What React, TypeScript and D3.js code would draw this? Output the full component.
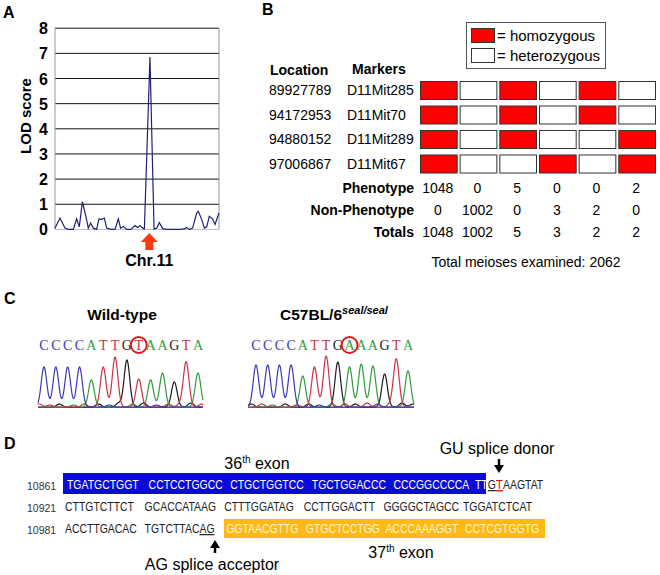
import React from 'react';
import * as d3 from 'd3';

const FONT = "'Liberation Sans', Arial, Helvetica, sans-serif";
const SERIF = "'Liberation Serif', 'Times New Roman', serif";

// ---------- Panel A data ----------
const lodTicks = [0, 1, 2, 3, 4, 5, 6, 7, 8];
const lodPos = [0, 3, 6.1, 8.1, 11.2, 13.2, 14.8, 16.7, 18.9, 20.3, 21.7, 23.4, 25.4, 26.8, 28.5, 30.1, 31.5, 34.1, 36.6, 38.6, 40, 41.7, 43.7, 46.3, 48.8, 50.4, 51.8, 53.5, 54.5, 57.9, 60.4, 62, 63.6, 65.7, 68.1, 72.2, 76.2, 78.9, 80.3, 81.9, 83.9, 86.4, 87.4, 89.4, 91.1, 92.5, 94.1, 96, 97.6, 100];
const lodVal = [0.05, 0.45, 0.05, 0, 0, 0.42, 0.1, 1.1, 0.5, 0.05, 0.25, 0.05, 0, 0.42, 0.4, 0.45, 0.05, 0, 0, 0.42, 0.05, 0.12, 0, 0, 0.15, 0.08, 0.15, 0.05, 0.02, 6.85, 0.02, 0.05, 0.27, 0.03, 0, 0, 0, 0.02, 0.08, 0, 0.05, 0.65, 0.72, 0.4, 0.05, 0.1, 0.52, 0.42, 0.2, 0.65];
const chrLabel = 'Chr.11';

// ---------- Panel B data ----------
const locations = ['89927789', '94172953', '94880152', '97006867'];
const markers = ['D11Mit285', 'D11Mit70', 'D11Mit289', 'D11Mit67'];
const genotypes = [
  [1, 0, 1, 0, 1, 0],
  [1, 0, 1, 0, 1, 0],
  [1, 0, 1, 0, 0, 1],
  [1, 0, 0, 1, 0, 1],
];
const phenotype = [1048, 0, 5, 0, 0, 2];
const nonPhenotype = [0, 1002, 0, 3, 2, 0];
const totals = [1048, 1002, 5, 3, 2, 2];
const tableLabels = ['Phenotype', 'Non-Phenotype', 'Totals'];

// ---------- Panel C data ----------
const wtBases = ['C', 'C', 'C', 'C', 'A', 'T', 'T', 'G', 'T', 'A', 'A', 'G', 'T', 'A'];
const wtHeights = [40, 40, 40, 40, 27, 40, 50, 47, 28, 27, 34, 25, 45, 34];
const mutBases = ['C', 'C', 'C', 'C', 'A', 'T', 'T', 'G', 'A', 'A', 'A', 'G', 'T', 'A'];
const mutHeights = [42, 42, 42, 42, 31, 40, 51, 45, 40, 43, 41, 33, 48, 36];
const wtNoise: [number, string, number][] = [
  [-0.4, 'T', 3], [0.5, 'T', 2], [1.3, 'G', 3], [2.5, 'A', 2], [3.4, 'T', 3], [4.6, 'G', 3],
  [5.5, 'C', 2], [6.3, 'G', 4], [7.5, 'A', 3], [8.4, 'G', 4], [9.5, 'C', 2], [10.5, 'T', 3],
  [11.5, 'T', 3], [12.4, 'G', 4], [13.3, 'T', 3],
];
const mutNoise: [number, string, number][] = [
  [-0.4, 'G', 3], [0.5, 'T', 3], [1.4, 'A', 2], [2.5, 'G', 3], [3.5, 'T', 2], [4.5, 'G', 3],
  [5.4, 'C', 2], [6.5, 'A', 3], [7.6, 'T', 3], [8.5, 'G', 3], [9.5, 'T', 4], [10.4, 'C', 3],
  [11.5, 'T', 3], [12.5, 'G', 4], [13.4, 'G', 3],
];
const baseColors: Record<string, string> = { C: '#3a3ab8', A: '#2f9c3c', T: '#cc3344', G: '#1c1c1c' };

// ---------- Panel D data ----------
const seqNumbers = ['10861', '10921', '10981'];
const seqRow1 = ['TGATGCTGGT', 'CCTCCTGGCC', 'CTGCTGGTCC', 'TGCTGGACCC', 'CCCGGCCCCA', 'TTGTAAGTAT'];
const seqRow2 = ['CTTGTCTTCT', 'GCACCATAAG', 'CTTTGGATAG', 'CCTTGGACTT', 'GGGGCTAGCC', 'TGGATCTCAT'];
const seqRow3 = ['ACCTTGACAC', 'TGTCTTACAG', 'GGTAACGTTG', 'GTGCTCCTGG', 'ACCCAAAGGT', 'CCTCGTGGTG'];

function Chromatogram(props: {
  bases: string[]; heights: number[]; noise: [number, string, number][];
  x0: number; x1: number; lx0: number; lx1: number; baseY: number; letterY: number; circleIdx: number;
}) {
  const { bases, heights, noise, x0, x1, lx0, lx1, baseY, letterY, circleIdx } = props;
  const xs = d3.scaleLinear([0, bases.length - 1], [lx0, lx1]);
  const sigma = 2.8;
  const samples = d3.range(x0, x1 + 0.01, 0.5);
  const line = d3.line<[number, number]>().x(d => d[0]).y(d => d[1]);
  const channels = ['G', 'A', 'T', 'C'];
  return (
    <g>
      <line x1={x0} x2={x1} y1={baseY + 0.5} y2={baseY + 0.5} stroke="#5a5ac8" strokeWidth={1} />
      {channels.map(ch => {
        const peaks: [number, number][] = [];
        bases.forEach((b, i) => { if (b === ch) peaks.push([xs(i), heights[i]]); });
        noise.forEach(n => { if (n[1] === ch) peaks.push([xs(n[0]), n[2]]); });
        const pts = samples.map(x => [x, baseY - d3.sum(peaks, p => p[1] * Math.exp(-((x - p[0]) ** 2) / (2 * sigma * sigma)))] as [number, number]);
        return <path key={ch} d={line(pts) || ''} fill="none" stroke={baseColors[ch]} strokeWidth={1.2} />;
      })}
      {bases.map((b, i) => (
        <text key={i} x={xs(i)} y={letterY} textAnchor="middle" fontFamily={SERIF} fontSize={14} fill={baseColors[b]}>{b}</text>
      ))}
      <circle cx={xs(circleIdx)} cy={letterY - 5} r={8} fill="none" stroke="#e01818" strokeWidth={2} />
    </g>
  );
}

export default function App() {
  // Panel A scales
  const ax = d3.scaleLinear([0, 100], [55, 219]);
  const ay = d3.scaleLinear([0, 8], [229.4, 28.2]);
  const lodLine = d3.line<number>().x((_, i) => ax(lodPos[i])).y(d => ay(d));
  const arrowX = ax(57.5);

  // Panel B scales
  const bx = d3.scaleBand<number>().domain(d3.range(6)).range([420, 656]).paddingInner(0.05);
  const by = d3.scaleLinear([0, 3], [90, 163.5]);
  const ty = d3.scaleLinear([0, 2], [193, 237]);

  // Panel D scales
  const r1 = d3.scaleLinear([0, 5], [67, 475]);
  const r23 = d3.scaleLinear([0, 5], [65, 463]);
  const rowY = [489, 511, 533];
  const seqFont = 12;
  const sx = 0.87;
  const seqText = (key: string | number, x: number, y: number, fill: string, children: React.ReactNode) => (
    <text key={key} transform={`translate(${x},${y}) scale(${sx},1)`} fontFamily={FONT} fontSize={seqFont} fill={fill}>{children}</text>
  );

  return (
    <svg width={660} height={575} style={{ position: 'absolute', left: 0, top: 0, background: '#fff' }} fontFamily={FONT}>
      {/* ---------------- Panel A ---------------- */}
      <text x={3} y={18} fontSize={16} fontWeight="bold">A</text>
      {lodTicks.map(t => (
        <g key={t}>
          {t > 0 && <line x1={55} x2={219} y1={ay(t)} y2={ay(t)} stroke="#111" strokeWidth={1} />}
          <text x={48} y={ay(t) + 6} textAnchor="end" fontSize={16} fontWeight="bold">{t}</text>
        </g>
      ))}
      <line x1={55} x2={55} y1={ay(8)} y2={ay(0)} stroke="#999" strokeWidth={1} />
      <line x1={219} x2={219} y1={ay(8)} y2={ay(0)} stroke="#999" strokeWidth={1} />
      <line x1={55} x2={219} y1={ay(0)} y2={ay(0)} stroke="#bbb" strokeWidth={1} />
      <path d={lodLine(lodVal) || ''} fill="none" stroke="#20207a" strokeWidth={1.2} />
      <text transform={`translate(31,116) rotate(-90)`} textAnchor="middle" fontSize={15} fontWeight="bold">LOD score</text>
      <path d={`M${arrowX},233 L${arrowX + 8.5},242 L${arrowX + 4},242 L${arrowX + 4},250 L${arrowX - 4},250 L${arrowX - 4},242 L${arrowX - 8.5},242 Z`} fill="#ff3a10" />
      <text x={arrowX} y={266} textAnchor="middle" fontSize={16} fontWeight="bold">{chrLabel}</text>

      {/* ---------------- Panel B ---------------- */}
      <text x={262} y={15} fontSize={16} fontWeight="bold">B</text>
      <rect x={466.5} y={22.5} width={139} height={46} fill="#fff" stroke="#555" strokeWidth={1} />
      <rect x={471.5} y={28.5} width={23} height={14} fill="#ff0000" stroke="#333" strokeWidth={1} />
      <rect x={471.5} y={48.5} width={23} height={14} fill="#fff" stroke="#333" strokeWidth={1} />
      <text x={497} y={40.5} fontSize={15}>= homozygous</text>
      <text x={497} y={60.5} fontSize={15}>= heterozygous</text>
      <text x={270} y={75} fontSize={14} fontWeight="bold">Location</text>
      <text x={352} y={74} fontSize={14} fontWeight="bold">Markers</text>
      {locations.map((loc, i) => (
        <g key={loc}>
          <text x={269} y={by(i) + 5} fontSize={14}>{loc}</text>
          <text x={347} y={by(i) + 5} fontSize={14}>{markers[i]}</text>
          {genotypes[i].map((g, j) => (
            <rect key={j} x={(bx(j) as number) + 0.5} y={by(i) - 9 + 0.5} width={bx.bandwidth() - 1} height={18}
              fill={g ? '#ff0000' : '#fff'} stroke="#333" strokeWidth={1} />
          ))}
        </g>
      ))}
      {[phenotype, nonPhenotype, totals].map((row, k) => (
        <g key={k}>
          <text x={414} y={ty(k)} textAnchor="end" fontSize={14} fontWeight="bold">{tableLabels[k]}</text>
          {row.map((v, j) => (
            <text key={j} x={(bx(j) as number) + bx.bandwidth() / 2 - 1} y={ty(k)} textAnchor="middle" fontSize={14}>{v}</text>
          ))}
        </g>
      ))}
      <text x={526} y={267} textAnchor="middle" fontSize={14}>Total meioses examined: 2062</text>

      {/* ---------------- Panel C ---------------- */}
      <text x={4} y={304} fontSize={16} fontWeight="bold">C</text>
      <text x={122} y={320} textAnchor="middle" fontSize={15.5} fontWeight="bold">Wild-type</text>
      <text x={280} y={320} fontSize={15.5} fontWeight="bold">C57BL/6<tspan dy={-6} fontSize={11} fontStyle="italic">seal/seal</tspan></text>
      <Chromatogram bases={wtBases} heights={wtHeights} noise={wtNoise} x0={38} x1={203} lx0={44} lx1={198} baseY={407} letterY={350} circleIdx={8} />
      <Chromatogram bases={mutBases} heights={mutHeights} noise={mutNoise} x0={248} x1={414} lx0={256} lx1={408} baseY={407} letterY={350} circleIdx={8} />

      {/* ---------------- Panel D ---------------- */}
      <text x={4} y={449} fontSize={16} fontWeight="bold">D</text>
      <text x={257} y={469} textAnchor="middle" fontSize={16}>36<tspan dy={-6} fontSize={10}>th</tspan><tspan dy={6}> exon</tspan></text>
      <rect x={63} y={473} width={486 - 63} height={21} fill="#0b0bd8" />
      <rect x={224} y={519} width={545 - 224} height={19} fill="#ffb914" />
      {seqNumbers.map((n, i) => (
        <text key={n} x={27} y={rowY[i] + 1} fontSize={10.5} fill="#333">{n}</text>
      ))}
      {seqRow1.map((g, j) => (
        j < 5 ? seqText(j, r1(j), rowY[0], '#fff', g) : seqText(j, r1(j), rowY[0], '#222', (
          <>
            <tspan fill="#fff">{g.slice(0, 2)}</tspan>
            <tspan fill="#222" style={{ textDecoration: 'underline' }}>{g.slice(2, 3)}</tspan>
            <tspan fill="#e01010" fontSize={13.5} style={{ textDecoration: 'underline' }}>{g.slice(3, 4)}</tspan>
            <tspan fill="#222">{g.slice(4)}</tspan>
          </>
        ))
      ))}
      {seqRow2.map((g, j) => seqText(j, r23(j), rowY[1], '#222', g))}
      {seqRow3.map((g, j) => (
        j === 1 ? seqText(j, r23(j), rowY[2], '#222', (
          <>{g.slice(0, 8)}<tspan style={{ textDecoration: 'underline' }}>{g.slice(8)}</tspan></>
        )) : seqText(j, r23(j) + (j >= 2 ? 2 : 0), rowY[2], j >= 2 ? '#fff6cc' : '#222', g)
      ))}
      <text x={497} y={454} textAnchor="middle" fontSize={16}>GU splice donor</text>
      <line x1={499} x2={499} y1={459} y2={466} stroke="#000" strokeWidth={2.5} />
      <path d="M494,465 L504,465 L499,473 Z" fill="#000" />
      <text x={401} y={558} textAnchor="middle" fontSize={16}>37<tspan dy={-6} fontSize={10}>th</tspan><tspan dy={6}> exon</tspan></text>
      <line x1={215} x2={215} y1={553} y2={547} stroke="#000" strokeWidth={2.5} />
      <path d="M210,548 L220,548 L215,540 Z" fill="#000" />
      <text x={212} y={570} textAnchor="middle" fontSize={16}>AG splice acceptor</text>
    </svg>
  );
}
